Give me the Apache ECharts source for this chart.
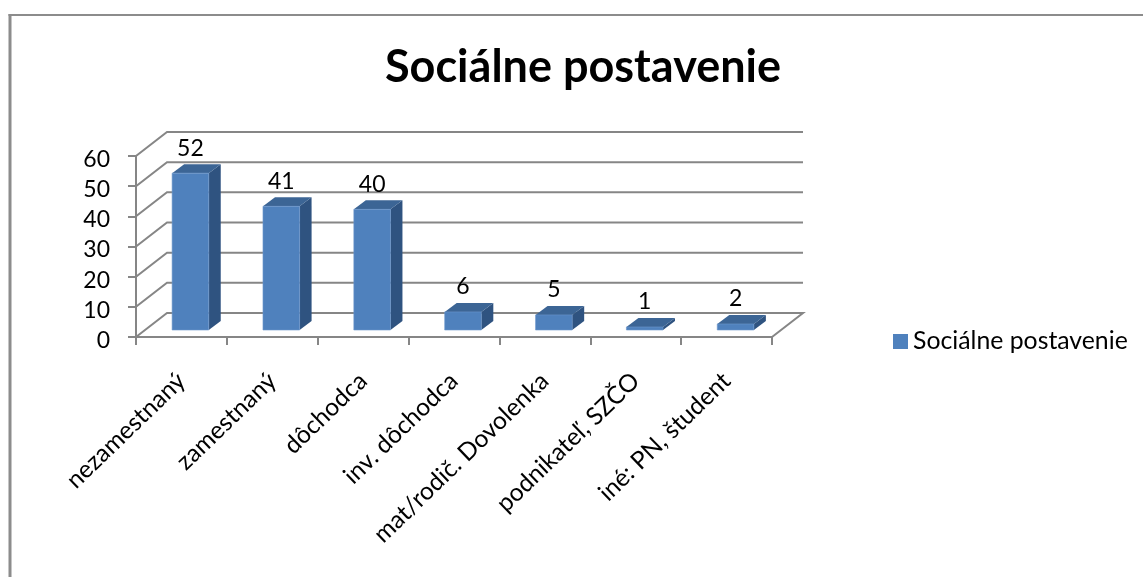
<!DOCTYPE html>
<html>
<head>
<meta charset="utf-8">
<style>
  html, body { margin: 0; padding: 0; background: #fff; }
  #chart { width: 1143px; height: 577px; }
</style>
<script src="https://cdn.jsdelivr.net/npm/echarts@6/dist/echarts.min.js"></script>
</head>
<body>
<div id="chart"></div>
<script>
const titleText = 'Sociálne postavenie';
const categories = ['nezamestnaný', 'zamestnaný', 'dôchodca', 'inv. dôchodca', 'mat/rodič. Dovolenka', 'podnikateľ, SZČO', 'iné: PN, študent'];
const values = [52, 41, 40, 6, 5, 1, 2];
const yTicks = [0, 10, 20, 30, 40, 50, 60];

const font = 'Lato';
const gridColor = '#868686';
// pseudo 3d depth of the floor and of one bar, in px
const wallDepth = [31, -24];
const barDepth = [12, -9];
const barShift = [9, -7];

function renderWall(params, api) {
  const cs = params.coordSys;
  const y = api.coord([0, api.value(1)])[1];
  const pts = [[cs.x, y], [cs.x + wallDepth[0], y + wallDepth[1]], [cs.x + cs.width + wallDepth[0], y + wallDepth[1]]];
  // the floor also closes on the right side
  if (api.value(1) === 0) pts.push([cs.x + cs.width, y]);
  return {
    type: 'polyline',
    shape: { points: pts },
    style: { fill: 'none', stroke: gridColor, lineWidth: 2 }
  };
}

function renderBar(params, api) {
  const base = api.coord([api.value(0), 0]);
  const top = api.coord([api.value(0), api.value(1)]);
  const w = api.size([1, 0])[0] * 0.403;
  const x0 = base[0] + barShift[0] - w / 2;
  const x1 = x0 + w;
  const y0 = base[1] + barShift[1];
  const y1 = top[1] + barShift[1];
  const dx = barDepth[0];
  const dy = barDepth[1];
  return {
    type: 'group',
    children: [
      { type: 'polygon', shape: { points: [[x1, y1], [x1 + dx, y1 + dy], [x1 + dx, y0 + dy], [x1, y0]] }, style: { fill: '#2F5380' } },
      { type: 'polygon', shape: { points: [[x0, y1], [x0 + dx, y1 + dy], [x1 + dx, y1 + dy], [x1, y1]] }, style: { fill: '#3C6595' } },
      { type: 'rect', shape: { x: x0, y: y1, width: w, height: y0 - y1 }, style: { fill: '#4F81BD', stroke: '#6B97CC', lineWidth: 0.6 } },
      {
        type: 'text',
        style: {
          x: (x0 + x1) / 2, y: y1 - 25, text: String(api.value(1)),
          fill: '#000', font: '23px ' + font, textAlign: 'center', textVerticalAlign: 'middle'
        }
      }
    ]
  };
}

const chart = echarts.init(document.getElementById('chart'), null, { renderer: 'canvas' });
chart.setOption({
  animation: false,
  backgroundColor: '#fff',
  color: ['#4F81BD'],
  title: {
    text: titleText,
    left: 578,
    top: 40,
    textAlign: 'center',
    textStyle: { fontFamily: font, fontSize: 45, fontWeight: 'bold', color: '#000' }
  },
  legend: {
    data: [titleText],
    left: 893,
    top: 329,
    padding: 0,
    icon: 'rect',
    itemWidth: 15,
    itemHeight: 15,
    textStyle: { fontFamily: font, fontSize: 24.8, color: '#000' }
  },
  grid: { left: 136, top: 156, width: 636, height: 181 },
  xAxis: {
    type: 'category',
    data: categories,
    axisLine: { lineStyle: { color: gridColor, width: 2 } },
    axisTick: { show: true, length: 8, lineStyle: { color: gridColor, width: 2 } },
    axisLabel: { interval: 0, rotate: 44, margin: 40, fontFamily: font, fontSize: 24.5, color: '#000' }
  },
  yAxis: {
    type: 'value',
    min: 0,
    max: 60,
    interval: 10,
    axisLine: { show: true, lineStyle: { color: gridColor, width: 2 } },
    axisTick: { show: true, length: 8, lineStyle: { color: gridColor, width: 2 } },
    // small top-aligned line box pushes the digits down onto the ticks
    axisLabel: { margin: 26, verticalAlign: 'top', lineHeight: 7, fontFamily: font, fontSize: 23, color: '#000' },
    splitLine: { show: false }
  },
  graphic: [
    { type: 'line', silent: true, z: -1, shape: { x1: 10, y1: 14, x2: 10, y2: 577 }, style: { stroke: '#8C8C8C', lineWidth: 3 } },
    { type: 'line', silent: true, z: -1, shape: { x1: 8.5, y1: 15, x2: 1143, y2: 15 }, style: { stroke: '#8C8C8C', lineWidth: 2 } }
  ],
  series: [
    { type: 'custom', name: 'wall', coordinateSystem: 'cartesian2d', renderItem: renderWall, clip: false, z: 1, silent: true, data: yTicks.map(t => [0, t]) },
    { type: 'custom', name: titleText, coordinateSystem: 'cartesian2d', renderItem: renderBar, clip: false, z: 3, data: values.map((v, i) => [i, v]) }
  ]
});
</script>
</body>
</html>
